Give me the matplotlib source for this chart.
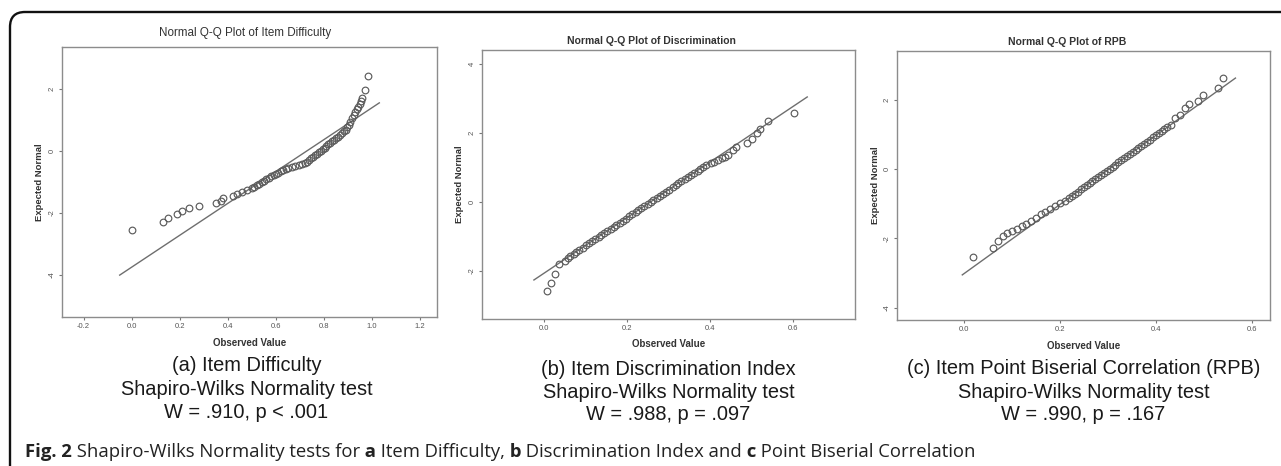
import matplotlib
matplotlib.use("Agg")
import matplotlib.pyplot as plt
from matplotlib.patches import FancyBboxPatch
from matplotlib.transforms import IdentityTransform

# ---------------- data ----------------
# (a) Item Difficulty
diff_obs = [0.00, 0.13, 0.15, 0.19, 0.21, 0.24, 0.28, 0.35, 0.37, 0.38, 0.42, 0.44, 0.46, 0.48,
            0.500, 0.510, 0.520, 0.530, 0.540, 0.550, 0.560, 0.570, 0.580, 0.590, 0.600, 0.610,
            0.620, 0.630, 0.640, 0.650,
            0.665, 0.680, 0.695, 0.710, 0.722,
            0.730, 0.738, 0.746, 0.754, 0.762, 0.770, 0.778, 0.786, 0.794, 0.802, 0.810, 0.818,
            0.826, 0.834, 0.842, 0.850, 0.858, 0.866, 0.874, 0.882, 0.890, 0.897, 0.903,
            0.910, 0.917, 0.925, 0.930, 0.937, 0.942, 0.950, 0.955, 0.960, 0.972, 0.985]
diff_exp = [-2.55, -2.30, -2.15, -2.02, -1.92, -1.84, -1.76, -1.68, -1.60, -1.52, -1.45, -1.40, -1.32, -1.26,
            -1.20, -1.15, -1.10, -1.05, -1.00, -0.96, -0.91, -0.87, -0.82, -0.78, -0.74, -0.70,
            -0.66, -0.62, -0.58, -0.55,
            -0.52, -0.49, -0.46, -0.43, -0.39,
            -0.34, -0.29, -0.24, -0.19, -0.14, -0.09, -0.04, 0.01, 0.06, 0.11, 0.16, 0.21,
            0.26, 0.31, 0.36, 0.41, 0.46, 0.51, 0.57, 0.63, 0.69, 0.76, 0.84,
            0.94, 1.06, 1.17, 1.26, 1.34, 1.43, 1.52, 1.60, 1.72, 1.98, 2.40]
diff_line_x = [-0.05, 1.03]
diff_line_y = [-4.00, 1.55]

# (b) Discrimination
disc_obs = [0.007, 0.017, 0.027, 0.036, 0.050, 0.058,
            0.064, 0.072, 0.078, 0.085, 0.093, 0.102, 0.108, 0.115, 0.123, 0.132, 0.138, 0.144,
            0.153, 0.161, 0.168, 0.174, 0.183, 0.191, 0.197, 0.204, 0.212, 0.221, 0.227, 0.234,
            0.242, 0.251, 0.257, 0.263, 0.272, 0.280, 0.287, 0.293, 0.302, 0.310, 0.317, 0.323,
            0.331, 0.340, 0.346, 0.353, 0.361, 0.370, 0.376, 0.382, 0.391,
            0.403, 0.410, 0.420, 0.429, 0.436, 0.443, 0.455, 0.463, 0.489, 0.501, 0.513, 0.520,
            0.540, 0.602]
disc_exp = [-2.58, -2.35, -2.09, -1.80, -1.70, -1.62,
            -1.56, -1.50, -1.44, -1.38, -1.32, -1.26, -1.20, -1.14, -1.08, -1.02, -0.96, -0.90,
            -0.84, -0.78, -0.72, -0.66, -0.60, -0.54, -0.48, -0.42, -0.36, -0.30, -0.24, -0.18,
            -0.12, -0.06, 0.00, 0.06, 0.12, 0.18, 0.24, 0.30, 0.36, 0.42, 0.48, 0.54,
            0.60, 0.66, 0.72, 0.78, 0.84, 0.90, 0.96, 1.02, 1.08,
            1.13, 1.17, 1.21, 1.26, 1.31, 1.36, 1.50, 1.59, 1.71, 1.83, 2.00, 2.10,
            2.35, 2.58]
disc_line_x = [-0.024, 0.634]
disc_line_y = [-2.26, 3.04]

# (c) RPB
rpb_obs = [0.019, 0.060, 0.070,
           0.080, 0.090, 0.100, 0.110, 0.120, 0.129, 0.140, 0.150, 0.160, 0.169, 0.179, 0.190, 0.200, 0.210,
           0.219, 0.225, 0.231, 0.237, 0.243, 0.249, 0.255, 0.261, 0.267, 0.273, 0.279, 0.285,
           0.291, 0.297, 0.303, 0.309, 0.315, 0.321, 0.327, 0.333, 0.339, 0.345, 0.351, 0.357,
           0.363, 0.369, 0.375, 0.381, 0.387, 0.393, 0.399, 0.405, 0.411, 0.417, 0.423, 0.430,
           0.440, 0.450, 0.460, 0.469, 0.488, 0.498, 0.529, 0.540]
rpb_exp = [-2.54, -2.28, -2.07,
           -1.93, -1.85, -1.79, -1.72, -1.65, -1.57, -1.50, -1.40, -1.31, -1.24, -1.15, -1.07, -0.99, -0.91,
           -0.83, -0.77, -0.71, -0.65, -0.59, -0.53, -0.47, -0.41, -0.35, -0.29, -0.23, -0.17,
           -0.11, -0.05, 0.01, 0.07, 0.13, 0.19, 0.25, 0.31, 0.37, 0.43, 0.49, 0.55,
           0.61, 0.67, 0.73, 0.79, 0.85, 0.91, 0.97, 1.03, 1.09, 1.15, 1.21, 1.27,
           1.47, 1.56, 1.76, 1.87, 1.96, 2.13, 2.33, 2.62]
rpb_line_x = [-0.004, 0.565]
rpb_line_y = [-3.05, 2.62]

titles = ["Normal Q-Q Plot of Item Difficulty",
          "Normal Q-Q Plot of Discrimination",
          "Normal Q-Q Plot of RPB"]
captions = [["(a) Item Difficulty", "Shapiro-Wilks Normality test", "W = .910, p < .001"],
            ["(b) Item Discrimination Index", "Shapiro-Wilks Normality test", "W = .988, p = .097"],
            ["(c) Item Point Biserial Correlation (RPB)", "Shapiro-Wilks Normality test", "W = .990, p = .167"]]
xticks_list = [[-0.2, 0.0, 0.2, 0.4, 0.6, 0.8, 1.0, 1.2],
               [0.0, 0.2, 0.4, 0.6],
               [0.0, 0.2, 0.4, 0.6]]
yticks_list = [[-4, -2, 0, 2], [-2, 0, 2, 4], [-4, -2, 0, 2]]

# ---------------- layout ----------------
W, H = 1281, 466
fig = plt.figure(figsize=(W / 100, H / 100), dpi=100)


def fx(px):
    return px / W


def fy(py):
    return (H - py) / H


# pixel boxes: left, top, right, bottom
boxes = [(62, 47, 437, 317), (482, 50, 855, 319), (897, 51, 1270, 320)]
xlims = [(-0.29, 1.27), (-0.149, 0.749), (-0.14, 0.637)]
ylims = [(-5.35, 3.35), (-3.39, 4.4), (-4.35, 3.4)]
title_pos = [(245, 33), (651, 41), (1067, 42)]
title_bold = ["normal", "bold", "bold"]
title_size = [8.4, 7.5, 7.5]
ylab_x = [40, 459, 875]
xlab_y = [343, 344, 346]
cap_base = [[371, 395, 418], [375, 398, 420], [374, 398, 420]]

obs_all = [diff_obs, disc_obs, rpb_obs]
exp_all = [diff_exp, disc_exp, rpb_exp]
lx_all = [diff_line_x, disc_line_x, rpb_line_x]
ly_all = [diff_line_y, disc_line_y, rpb_line_y]

SANS = ["Liberation Sans", "DejaVu Sans"]

for i in range(3):
    l, t, r, b = boxes[i]
    ax = fig.add_axes([fx(l), fy(b), (r - l) / W, (b - t) / H])
    ax.plot(lx_all[i], ly_all[i], color="#6e6e6e", lw=1.0, zorder=2)
    ax.plot(obs_all[i], exp_all[i], "o", mfc="none", mec="#5c5c5c", mew=0.85, ms=4.8, zorder=3)
    ax.set_xlim(*xlims[i])
    ax.set_ylim(*ylims[i])
    ax.set_xticks(xticks_list[i])
    ax.set_xticklabels([f"{v:.1f}" for v in xticks_list[i]], family=SANS)
    ax.set_yticks(yticks_list[i])
    ax.set_yticklabels([str(v) for v in yticks_list[i]], rotation=90, va="center", family=SANS)
    for sp in ax.spines.values():
        sp.set_color("#8c8c8c")
        sp.set_linewidth(1.0)
    ax.tick_params(length=2.5, width=0.8, color="#777777", labelsize=5.5,
                   labelcolor="#555555", pad=2)
    cx = (l + r) / 2
    fig.text(fx(title_pos[i][0]), fy(title_pos[i][1]), titles[i], ha="center", va="center",
             fontsize=title_size[i], fontweight=title_bold[i], color="#333333", family=SANS)
    fig.text(fx(ylab_x[i]), fy((t + b) / 2), "Expected Normal", rotation=90, ha="center",
             va="center", fontsize=6.8, fontweight="bold", color="#333333", family=SANS)
    fig.text(fx(cx), fy(xlab_y[i]), "Observed Value", ha="center", va="center",
             fontsize=7.0, fontweight="bold", color="#333333", family=SANS)
    for j, line in enumerate(captions[i]):
        fig.text(fx(cx - 3 if i == 0 else cx), fy(cap_base[i][j]), line, ha="center",
                 va="baseline", fontsize=14.4, color="#1a1a1a", family=SANS)

# background overlay for border and figure caption
bg = fig.add_axes([0, 0, 1, 1], zorder=-1)
bg.set_axis_off()
bg.set_xlim(0, 1)
bg.set_ylim(0, 1)
border = FancyBboxPatch((10, -40), 1400, (H - 12) + 40,
                        boxstyle="round,pad=0,rounding_size=15",
                        transform=IdentityTransform(), fill=False, ec="#111111", lw=1.7)
bg.add_artist(border)

segments = [("Fig. 2", "bold"), (" Shapiro-Wilks Normality tests for", "normal"), (" a", "bold"),
            (" Item Difficulty,", "normal"), (" b", "bold"), (" Discrimination Index and", "normal"),
            (" c", "bold"), (" Point Biserial Correlation", "normal")]
CAPF = ["Open Sans", "DejaVu Sans"]
prev = bg.text(fx(25), fy(457), segments[0][0], ha="left", va="baseline", fontsize=13.3,
               fontweight=segments[0][1], family=CAPF, color="#222222")
for s, wgt in segments[1:]:
    prev = bg.annotate(s, xy=(1, 0), xycoords=prev, xytext=(0, 0), textcoords="offset points",
                       ha="left", va="bottom", fontsize=13.3, fontweight=wgt, family=CAPF,
                       color="#222222")

fig.savefig("out.png", dpi=100)
